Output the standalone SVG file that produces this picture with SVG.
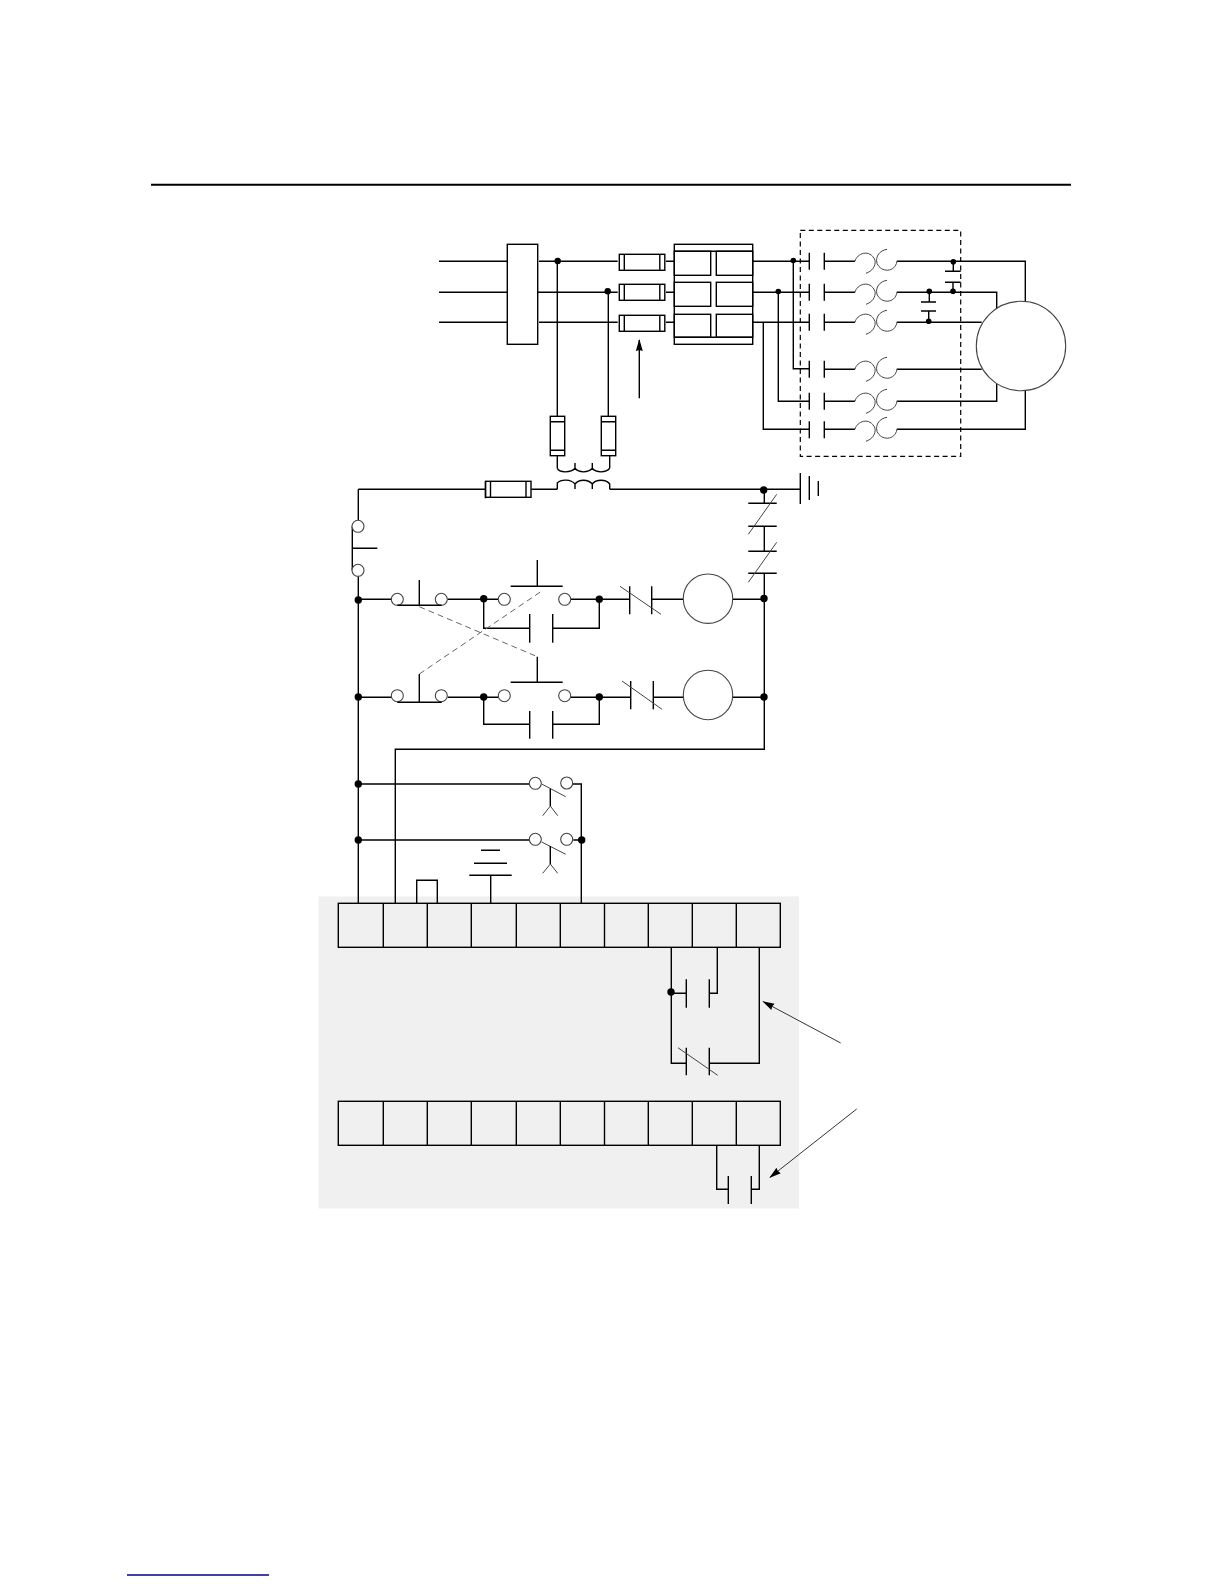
<svg xmlns="http://www.w3.org/2000/svg" xmlns:xlink="http://www.w3.org/1999/xlink" width="1224" height="1584" viewBox="0 0 1224 1584">
<style>
.w{fill:none;stroke:#000;stroke-width:1.4}
.b{fill:none;stroke:#000;stroke-width:1.4}
.g{fill:none;stroke:#444;stroke-width:1}
.o{fill:#fff;stroke:#444;stroke-width:1.1}
.d{fill:#000;stroke:none}
.dash{fill:none;stroke:#000;stroke-width:1.2;stroke-dasharray:5 3.5}
.gd{fill:none;stroke:#666;stroke-width:1;stroke-dasharray:6 4}
</style>
<defs>
<g id="oload"><path class="g" d="M0 0C1.7-8 15-13 20-1C21 5 17 10 11 12M32-12C25-11 20-5 22 2C26 11.5 40 11.5 42 0"/></g>
<g id="hfuse"><rect class="b" x="0" y="0" width="45.5" height="16"/><path class="b" d="M5 0V16M40.500 0V16"/></g>
<g id="vfuse"><rect class="b" x="0" y="0" width="14.400" height="39.400"/><path class="b" d="M0 5.400H14.400M0 34H14.400"/></g>
<path id="contact" class="b" d="M0-8.500V8.500M15-8.500V8.500"/>
<marker id="ah" viewBox="0 0 12 8" refX="11" refY="4" markerWidth="12" markerHeight="8" markerUnits="userSpaceOnUse" orient="auto"><path d="M0 .5L12 4L0 7.500L1 4Z" fill="#000"/></marker>
</defs>

<rect id="panel" x="318.500" y="896.500" width="480.500" height="312" fill="#f0f0f0"/>
<path id="rule" d="M151 184.700H1071" fill="none" stroke="#000" stroke-width="2"/>
<path id="footer-link" d="M127 1575H269" fill="none" stroke="#00008b" stroke-width="1.300"/>

<g id="connectors">
<path class="w" d="M439 261.300H507.300M439 292.300H507.300M439 322.300H507.300"/>
<path class="w" d="M539 261.300H617.700M537.700 292.300H617.700M539 322.300H617.700"/>
<path class="w" d="M666 261.300H674.300M666 292.300H674.300M666 322.300H674.300"/>
<path class="w" d="M557.300 261V416.300M608.300 291V416.300"/>
<path class="w" d="M557.300 455.700V468.300M609.700 455.700V468.300"/>
<path class="w" d="M358.300 489.300H485.300M531.300 489.300H557.300M609.700 489.300H800.300"/>
<path class="w" d="M752.700 261.300H809.300M752.700 292.300H809.300M752.700 322.300H809.300"/>
<path class="w" d="M793.300 261V368.800H809.300M778.300 292V401.300H809.300M763.300 322.300V429.300H809.300"/>
<path class="w" d="M824.300 261.300H855M824.300 292.300H855M824.300 322.300H855M824.300 369.300H855M824.300 401.300H855M824.300 429.300H855"/>
<path class="w" d="M896.700 261.300H1025.300V301.300M896.700 292.300H996.700V309M896.700 322.300H981.700M896.700 369.300H981.700M896.700 401.300H996.700V383M896.700 429.300H1025.300V390.700"/>
<path class="w" d="M953.300 261.700V271.300M953 282.300V291.300M929.300 291.300V302M928.700 311V321.300"/>
<path class="w" d="M358.300 489.300V520.300M358.300 576.300V903.300"/>
<path class="w" d="M352.300 526.300V570.300M352.300 548.300H377.300"/>
<path class="w" d="M764.300 489.300V503.300M764.300 526.300V551.300M764.300 573.300V749.300H395.300V903.300"/>
<path class="w" d="M358.300 599.300H391.300M447.700 599.300H498.300M570.700 599.300H629.700M651.700 599.300H683.300M732.700 599.300H764.300"/>
<path class="w" d="M483.700 599.300V628.300H529.700M552.700 628.300H599.300V599.300"/>
<path class="w" d="M358.300 697.300H391.300M447.700 697.300H498.300M570.700 697.300H630.700M653.300 697.300H683.300M732.700 697.300H764.300"/>
<path class="w" d="M483.700 697.300V724.300H529.700M552.700 724.300H599.300V697.300"/>
<path class="w" d="M358.300 784H529.300M358.300 840H529.300"/>
<path class="w" d="M572.700 784H581.300V903.300M573.300 840H581.300"/>
<path class="w" d="M671.300 947.300V1063.300H686.300M709.300 1063.300H759.300V947.300M671.300 993.300H686.300M709.300 993.300H717.300V947.300"/>
<path class="w" d="M716.700 1145.300V1189.300H728.300M751.300 1189.300H759.300V1145.300"/>
<path class="gd" d="M419.300 606.700L535 655.700M419.300 674L543.300 590"/>
<path class="w" d="M639.300 398.300V340" marker-end="url(#ah)"/>
<path fill="none" stroke="#333" stroke-width="1" d="M840.700 1043L763.300 1001.700" marker-end="url(#ah)"/>
<path fill="none" stroke="#333" stroke-width="1" d="M856.700 1109L770 1177.300" marker-end="url(#ah)"/>
<g class="d">
<circle cx="557.700" cy="261" r="3.200"/><circle cx="607.700" cy="291.300" r="3.200"/>
<circle cx="793.300" cy="260.500" r="2.800"/><circle cx="778.300" cy="291.500" r="2.800"/>
<circle cx="953.300" cy="261.700" r="2.800"/><circle cx="953" cy="291.300" r="2.800"/>
<circle cx="929.300" cy="291.300" r="2.800"/><circle cx="928.700" cy="321.300" r="2.800"/>
<circle cx="763.700" cy="490" r="3.700"/>
<circle cx="358.300" cy="600" r="3.700"/><circle cx="483.700" cy="598.800" r="3.700"/><circle cx="599.300" cy="599.300" r="3.700"/><circle cx="764" cy="598.500" r="3.700"/>
<circle cx="358.300" cy="697" r="3.700"/><circle cx="483.700" cy="697" r="3.700"/><circle cx="599.300" cy="697" r="3.700"/><circle cx="764" cy="697" r="3.700"/>
<circle cx="358.300" cy="784" r="3.700"/><circle cx="358.300" cy="840" r="3.700"/><circle cx="581.700" cy="840" r="3.700"/>
<circle cx="671" cy="992" r="3.700"/>
</g>
</g>

<g id="disconnect"><rect class="b" x="507.300" y="244.300" width="30.400" height="100"/></g>
<g id="fuses">
<use href="#hfuse" x="619.300" y="254.300"/><use href="#hfuse" x="619.300" y="284.300"/><use href="#hfuse" x="619.300" y="315.300"/>
</g>
<g id="drive-block">
<rect class="b" x="674.300" y="244.300" width="78.400" height="100"/>
<path class="b" d="M674.300 251.300H752.700M674.300 337.300H752.700"/>
<rect class="b" x="674.300" y="251.300" width="36.400" height="24"/><rect class="b" x="716.300" y="251.300" width="36.400" height="24"/>
<rect class="b" x="674.300" y="282.300" width="36.400" height="24"/><rect class="b" x="716.300" y="282.300" width="36.400" height="24"/>
<rect class="b" x="674.300" y="314.300" width="36.400" height="23"/><rect class="b" x="716.300" y="314.300" width="36.400" height="23"/>
</g>
<g id="control-fuses"><use href="#vfuse" x="550.300" y="416.300"/><use href="#vfuse" x="601.300" y="416.300"/></g>
<g id="transformer">
<path class="b" d="M557.300 468.300C559 473 571 473 575 468.300C579 473 588 473 592.300 468.300C596 473 606 473 609.700 468.300M575 463V470M592.300 463V470"/>
<path class="b" d="M557.300 489.300V483C561 479 571 479 575 484C579 479 588 479 592.300 484C596 479 606 479 609.700 484V489.300M575 484V489M592.300 484V489"/>
</g>
<g id="control-fuse"><use href="#hfuse" x="485.500" y="481.300" /><path class="b" d="M485.500 481.300V498.300" /></g>
<g id="bypass-box"><rect class="dash" x="800.300" y="230.300" width="160.400" height="226"/></g>
<g id="contactors">
<use href="#contact" x="809.300" y="261.300"/><use href="#contact" x="809.300" y="292.300"/><use href="#contact" x="809.300" y="322.300"/>
<use href="#contact" x="809.300" y="369.300"/><use href="#contact" x="809.300" y="401.300"/><use href="#contact" x="809.300" y="429.800"/>
</g>
<g id="overloads">
<use href="#oload" x="855" y="261.300"/><use href="#oload" x="855" y="292.300"/><use href="#oload" x="855" y="322.300"/>
<use href="#oload" x="855" y="369.300"/><use href="#oload" x="855" y="401.300"/><use href="#oload" x="855" y="429.300"/>
</g>
<g id="caps"><path class="b" d="M945 271.300H960.700M945 282.300H960.700M921 302H936M921 311H936"/></g>
<g id="motor"><circle cx="1021" cy="346" r="44.700" fill="#fff" stroke="#444" stroke-width="1.100"/></g>
<g id="battery"><path class="b" d="M800.300 473V504M809.300 476V500M818.300 481V496"/></g>
<g id="stop-switch"><circle class="o" cx="358" cy="526.300" r="6"/><circle class="o" cx="358" cy="570.300" r="6"/></g>
<g id="nc-contacts">
<path class="b" d="M748.300 503.300H776.700M748.300 526.300H776.700M748.300 551.300H776.700M748.300 573.300H776.700"/>
<path class="g" d="M748.300 534.300L776.700 494.300M748.300 582.300L776.700 542.300"/>
</g>
<g id="pb-a">
<circle class="o" cx="397.300" cy="599.300" r="6"/><circle class="o" cx="441.300" cy="599.300" r="6"/>
<path class="b" d="M397.300 605.300H441.700M419.300 580V605.300"/>
<circle class="o" cx="504.300" cy="599.300" r="6"/><circle class="o" cx="564.700" cy="599.300" r="6"/>
<path class="b" d="M510.700 586.300H562.700M537.300 560V586.300"/>
<path class="b" d="M529.700 614V642.700M552.700 614V642.700"/>
<path class="b" d="M629.700 586.300V614.300M651.700 586.300V614.300"/><path class="g" d="M620 586.300L661 614.300"/>
<circle class="o" cx="708" cy="598.700" r="24.700"/>
</g>
<g id="pb-b">
<circle class="o" cx="397.300" cy="695.700" r="6"/><circle class="o" cx="441.300" cy="695.700" r="6"/>
<path class="b" d="M397.300 702.300H441.700M419.300 674V702.300"/>
<circle class="o" cx="504.300" cy="695.700" r="6"/><circle class="o" cx="564.700" cy="695.700" r="6"/>
<path class="b" d="M510.700 682.300H562.700M537.300 656.700V682.300"/>
<path class="b" d="M529.700 711V738.700M552.700 711V738.700"/>
<path class="b" d="M630.700 681V709.300M653.300 681V709.300"/><path class="g" d="M622 681L662 709.300"/>
<circle class="o" cx="708" cy="695" r="24.700"/>
</g>
<g id="float-1">
<circle class="o" cx="535.300" cy="783.300" r="6"/><circle class="o" cx="566.700" cy="783" r="6"/>
<path class="g" d="M541.700 784L565.700 796.700"/><path class="b" d="M550.300 788.700V806"/><path class="g" d="M542.700 815.700L550.300 806L557.700 815.700"/>
</g>
<g id="float-2">
<circle class="o" cx="535.300" cy="839.300" r="6"/><circle class="o" cx="566.700" cy="839.300" r="6"/>
<path class="g" d="M541.700 842L565.700 854.300"/><path class="b" d="M550.300 846V864"/><path class="g" d="M542.700 873.300L550.300 864L557.700 873.300"/>
</g>
<g id="jumper"><path class="b" d="M416.700 903.300V880.300H437.300V903.300"/></g>
<g id="ground"><path class="b" d="M490.700 875.300V903.300M469.300 875.300H511.700M474 863.300H507M481 850.300H500"/></g>
<g id="terminals-1">
<rect class="b" x="338.300" y="903.300" width="442" height="44"/>
<path class="b" d="M383.300 903.300V947.300M427.300 903.300V947.300M471.300 903.300V947.300M516.300 903.300V947.300M560.300 903.300V947.300M604.500 903.300V947.300M648.300 903.300V947.300M692.300 903.300V947.300M736.300 903.300V947.300"/>
</g>
<g id="terminals-2">
<rect class="b" x="338.300" y="1101.300" width="442" height="44"/>
<path class="b" d="M383.300 1101.300V1145.300M427.300 1101.300V1145.300M471.300 1101.300V1145.300M516.300 1101.300V1145.300M560.300 1101.300V1145.300M604.500 1101.300V1145.300M648.300 1101.300V1145.300M692.300 1101.300V1145.300M736.300 1101.300V1145.300"/>
</g>
<g id="relay-contacts">
<path class="b" d="M686.300 979.300V1007.700M709.300 979.300V1007.700"/>
<path class="b" d="M686.300 1047.700V1075.300M709.300 1047.700V1075.300"/><path class="g" d="M678 1047.700L717.700 1075.300"/>
<path class="b" d="M728.300 1176V1204M751.300 1176V1204"/>
</g>
</svg>
